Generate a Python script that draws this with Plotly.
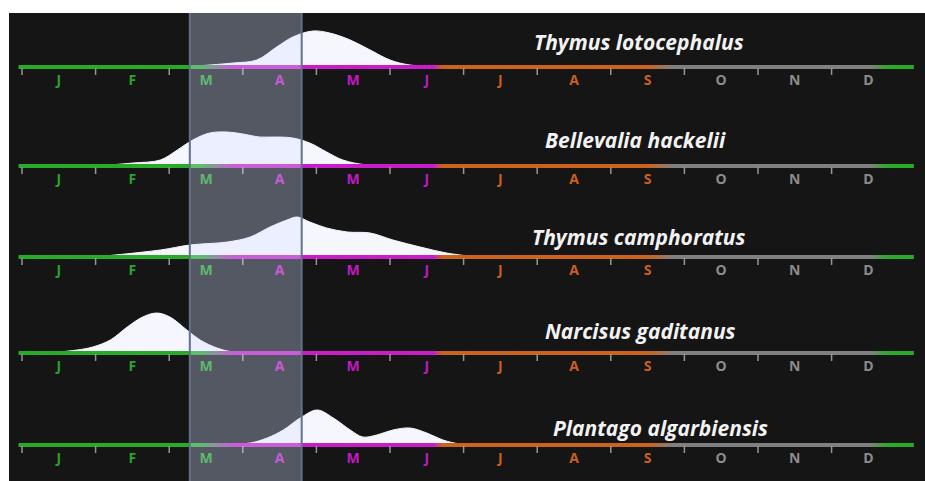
import numpy as np
import plotly.graph_objects as go

# ---------------- data ----------------
months = ["J", "F", "M", "A", "M", "J", "J", "A", "S", "O", "N", "D"]
month_season = [0, 0, 0, 1, 1, 1, 2, 2, 2, 3, 3, 3]   # winter, spring, summer, autumn

species = ["Thymus lotocephalus", "Bellevalia hackelii", "Thymus camphoratus",
           "Narcisus gaditanus", "Plantago algarbiensis"]

# flowering intensity curves: x in months (0 = 1 Jan, 12 = end of Dec), relative intensity
t_loto_x = [2.28, 2.87, 3.19, 3.46, 3.68, 3.95, 4.18, 4.46, 4.73, 5.00, 5.27, 5.68]
t_loto_y = [0.5, 4, 7, 20, 30, 36, 34, 27, 17, 7, 2, 0.3]

b_hack_x = [1.06, 1.51, 1.88, 2.11, 2.32, 2.55, 2.79, 3.00, 3.23, 3.46, 3.68, 3.91, 4.14, 4.36, 4.69, 5.14]
b_hack_y = [0.3, 3, 6, 16, 26, 33, 34, 32, 29, 29, 28, 23, 14, 6, 1, 0.2]

t_camp_x = [1.06, 1.88, 2.28, 2.79, 3.10, 3.37, 3.60, 3.74, 3.91, 4.14, 4.42, 4.73, 5.04, 5.41, 5.77, 6.15]
t_camp_y = [0.5, 7, 12, 15, 20, 30, 37, 40, 35, 29, 25, 24, 17, 10, 4, 0.2]

n_gadi_x = [0.38, 0.75, 0.96, 1.20, 1.43, 1.64, 1.83, 2.01, 2.24, 2.42, 2.65, 2.87, 3.23]
n_gadi_y = [0.2, 3, 6, 13, 26, 36, 40, 36, 23, 13, 5, 1, 0.2]

p_alga_x = [2.69, 3.10, 3.33, 3.55, 3.78, 4.01, 4.23, 4.46, 4.63, 4.82, 5.04, 5.27, 5.50, 5.72, 5.95, 6.22]
p_alga_y = [0.2, 2, 7, 15, 27, 35, 27, 15, 8, 10, 15, 17, 12, 5, 1, 0.2]

curves_x = [t_loto_x, b_hack_x, t_camp_x, n_gadi_x, p_alga_x]
curves_y = [t_loto_y, b_hack_y, t_camp_y, n_gadi_y, p_alga_y]

# season boundaries (months) and highlighted period
season_bounds = [2.67, 5.67, 8.70, 11.67]
highlight = [2.28, 3.80]

# ---------------- styling / layout ----------------
season_rgb = [(40, 172, 40), (200, 30, 200), (204, 100, 28), (128, 128, 128), (40, 172, 40)]
label_rgb = [(40, 165, 40), (195, 25, 195), (205, 95, 30), (140, 140, 140)]
trans_width = [0.45, 0.12, 0.35, 0.25]

row_base = [414, 315, 224, 128, 36]          # baseline of each row (plot units)
title_pos = [(8.38, 439), (8.34, 341), (8.38, 244), (8.40, 150), (8.67, 53)]

px_per_month = 73.6
x0_px = 22
W, H = 925, 481
ml, mt = 9, 13
xr = [(ml - x0_px) / px_per_month, (W - x0_px) / px_per_month]
yr = [0, H - mt]

bg = "#151515"
font_fam = "Open Sans, Lato, sans-serif"


def color_at(x):
    for i, b in enumerate(season_bounds):
        w = trans_width[i]
        if x < b - w / 2:
            c = season_rgb[i]
            return "rgb(%d,%d,%d)" % c
        if x <= b + w / 2:
            t = (x - (b - w / 2)) / w
            c0, c1 = season_rgb[i], season_rgb[i + 1]
            c = tuple(int(round(c0[k] + (c1[k] - c0[k]) * t)) for k in range(3))
            return "rgb(%d,%d,%d)" % c
    return "rgb(%d,%d,%d)" % season_rgb[-1]


fig = go.Figure()

line_x = np.arange(-0.02, 12.10, 0.01)
line_cols = [color_at(v) for v in line_x]

for r in range(5):
    base = row_base[r]
    cx = curves_x[r]
    cy = [base + v for v in curves_y[r]]
    # baseline for the fill
    fig.add_trace(go.Scatter(x=[cx[0], cx[-1]], y=[base, base], mode="lines",
                             line=dict(width=0, color="rgba(0,0,0,0)"),
                             hoverinfo="skip", showlegend=False))
    fig.add_trace(go.Scatter(x=cx, y=cy, mode="lines",
                             line=dict(shape="spline", smoothing=1.0, width=1, color="#f6f6ff"),
                             fill="tonexty", fillcolor="#f6f6ff",
                             hoverinfo="skip", showlegend=False))
    # colored season line
    fig.add_trace(go.Scatter(x=line_x, y=[base] * len(line_x), mode="markers",
                             marker=dict(symbol="square", size=4, color=line_cols,
                                         line=dict(width=0)),
                             hoverinfo="skip", showlegend=False))
    # month ticks
    tx, ty = [], []
    for m in range(12):
        tx += [m, m, None]
        ty += [base - 1, base - 8, None]
    fig.add_trace(go.Scatter(x=tx, y=ty, mode="lines",
                             line=dict(width=1.5, color="rgb(150,150,150)"),
                             hoverinfo="skip", showlegend=False))
    # month labels
    fig.add_trace(go.Scatter(x=[m + 0.5 for m in range(12)], y=[base - 14] * 12,
                             mode="text", text=months,
                             textfont=dict(family=font_fam, size=14, weight="bold",
                                           color=["rgb(%d,%d,%d)" % label_rgb[s] for s in month_season]),
                             hoverinfo="skip", showlegend=False))
    # species name
    fig.add_annotation(x=title_pos[r][0], y=title_pos[r][1], text="<b><i>%s</i></b>" % species[r],
                       showarrow=False, xanchor="center", yanchor="middle",
                       font=dict(family=font_fam, size=21, color="#f2f2f2"))

# highlighted period
fig.add_shape(type="rect", xref="x", yref="y", x0=highlight[0], x1=highlight[1], y0=yr[0], y1=yr[1],
              fillcolor="rgba(212,224,255,0.33)", line=dict(width=0), layer="above")
for hx in highlight:
    fig.add_shape(type="line", xref="x", yref="y", x0=hx, x1=hx, y0=yr[0], y1=yr[1],
                  line=dict(width=2, color="rgb(98,112,138)"), layer="above")

fig.update_layout(
    width=W, height=H,
    margin=dict(l=ml, r=0, t=mt, b=0),
    paper_bgcolor="white", plot_bgcolor=bg,
    xaxis=dict(range=xr, visible=False, fixedrange=True),
    yaxis=dict(range=yr, visible=False, fixedrange=True),
    showlegend=False,
)

fig.write_html("out.html", config={"displayModeBar": False, "staticPlot": True},
               post_script="document.body.style.margin='0';document.body.style.overflow='hidden';")
